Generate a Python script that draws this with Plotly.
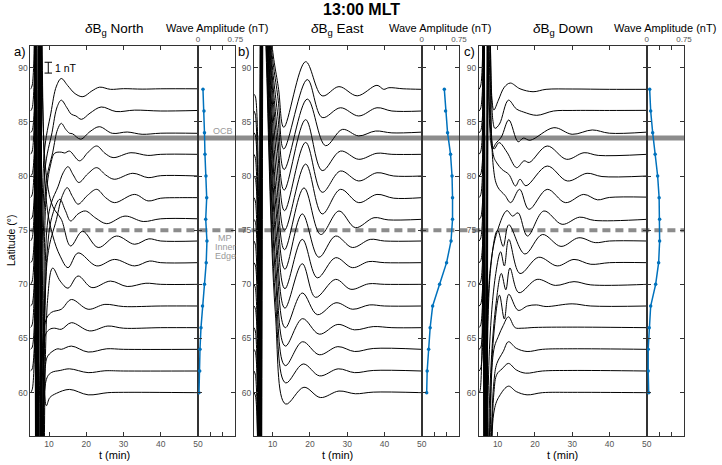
import plotly.graph_objects as go

# ---------------- data ----------------
LATS = [88, 86, 84, 82, 80, 78, 76, 74, 72, 70, 68, 66, 64, 62, 60]
TIME_TICKS = [10, 20, 30, 40, 50]
LAT_TICKS = [60, 65, 70, 75, 80, 85, 90]
AMP_TICKS = [0, 0.75]
AMP_TICK_TEXT = ["0", "0.75"]
AMP_MINOR_STEP = 0.25
OCB_LAT = 83.5
MP_LAT = 75.0
SCALE_T = 9.8
SCALE_LAT = (89.5, 90.5)

AMP_NORTH = [0.10, 0.12, 0.13, 0.14, 0.16, 0.175, 0.155, 0.18, 0.165, 0.13, 0.09, 0.06, 0.04, 0.035, 0.02]
AMP_EAST = [0.455, 0.48, 0.52, 0.58, 0.61, 0.62, 0.62, 0.59, 0.50, 0.36, 0.22, 0.17, 0.14, 0.11, 0.10]
AMP_DOWN = [0.06, 0.08, 0.12, 0.17, 0.22, 0.25, 0.26, 0.26, 0.24, 0.18, 0.08, 0.05, 0.03, 0.03, 0.04]

# (t [min], dB [nT]) per latitude trace -- North
N88 = [(5.0,0.0),(5.5,0.4),(6.0,40),(6.7,-40),(7.3,40),(8.0,-40),(8.7,-6.0),(10.5,-2.2),(12.0,0.3),(13.3,1.0),(15.0,0.35),(17.0,-0.4),(19.1,-0.68),(21.5,-0.15),(23.6,0.2),(26.5,0.0),(30.0,0.06),(35.0,0.02),(40.0,0.05),(50.0,0.05)]
N86 = [(5.0,0.0),(5.5,0.3),(6.1,40),(6.8,-40),(7.4,40),(8.1,-40),(8.9,-5.5),(10.8,-2.0),(12.2,0.4),(13.3,1.0),(14.8,0.3),(16.0,-0.3),(17.2,-0.45),(18.7,-0.77),(21.0,-0.2),(24.0,0.37),(28.0,-0.05),(33.0,0.08),(40.0,0.0),(50.0,0.05)]
N84 = [(5.0,0.0),(5.5,0.2),(6.0,40),(6.8,-40),(7.5,40),(8.2,-40),(9.1,-5.0),(11.0,-1.8),(12.3,0.3),(13.3,0.86),(14.5,0.3),(15.5,-0.05),(16.3,-0.1),(18.5,-0.6),(21.0,0.1),(23.5,0.55),(27.0,-0.06),(31.0,0.06),(35.0,-0.15),(40.0,-0.05),(50.0,-0.06)]
N82 = [(5.0,0.0),(5.5,0.3),(6.1,40),(6.9,-40),(7.5,40),(8.3,-40),(9.2,-4.0),(10.4,-1.0),(11.5,0.1),(13.3,0.2),(14.2,0.12),(15.5,0.3),(18.2,-0.6),(20.5,0.2),(22.8,0.77),(25.0,0.1),(27.2,-0.3),(32.0,0.15),(36.5,-0.1),(40.0,0.0),(50.0,0.0)]
N80 = [(5.0,0.0),(5.5,0.2),(5.9,40),(6.8,-40),(7.6,40),(8.4,-40),(9.4,-5.0),(10.6,-2.5),(12.4,-1.0),(13.8,0.3),(15.1,0.86),(16.5,0.1),(18.0,-0.6),(20.4,0.2),(22.8,0.77),(25.2,0.1),(27.5,-0.3),(32.5,0.25),(36.6,-0.15),(40.0,0.03),(50.0,0.0)]
N78 = [(5.0,0.0),(5.5,0.3),(6.2,40),(6.9,-40),(7.6,40),(8.3,-40),(9.6,-5.5),(12.0,-2.0),(13.6,0.2),(14.9,0.92),(16.3,0.1),(17.8,-0.6),(20.3,0.2),(22.8,0.77),(25.2,0.0),(27.6,-0.46),(33.0,0.3),(36.6,-0.3),(40.0,-0.05),(45.0,0.0),(50.0,0.0)]
N76 = [(5.0,0.0),(5.5,0.2),(6.0,40),(6.7,-40),(7.4,40),(8.3,-40),(9.5,-3.0),(11.0,0.5),(12.9,1.85),(14.4,0.8),(15.8,-0.15),(17.8,0.5),(19.8,0.77),(22.6,0.1),(25.5,-0.4),(30.4,0.3),(35.3,-0.2),(40.0,0.05),(50.0,0.05)]
N74 = [(5.0,0.0),(5.5,0.3),(6.1,40),(6.9,-40),(7.7,40),(9.0,7.0),(11.0,3.2),(13.3,2.0),(15.8,-0.46),(19.0,0.9),(23.2,-0.6),(28.1,0.46),(33.0,-0.3),(36.8,0.2),(40.0,0.0),(50.0,0.0)]
N72 = [(5.0,0.0),(5.5,0.2),(6.2,40),(7.0,-40),(7.8,40),(9.2,6.0),(11.0,2.5),(13.0,0.6),(15.1,-0.46),(17.8,0.9),(22.8,-0.3),(27.6,0.3),(33.0,-0.3),(37.0,0.15),(40.0,0.0),(50.0,0.0)]
N70 = [(5.0,0.0),(5.5,0.3),(6.0,40),(6.8,-40),(7.6,40),(8.5,-40),(9.6,-1.5),(11.0,1.5),(13.0,0.3),(15.1,-0.35),(17.8,0.77),(21.5,-0.3),(26.5,0.3),(31.0,-0.2),(36.0,0.1),(40.0,0.0),(50.0,0.0)]
N68 = [(5.0,0.0),(5.5,0.2),(6.1,40),(6.9,-40),(7.7,40),(8.3,-40),(9.0,-1.5),(10.6,-0.6),(13.3,-0.3),(16.0,0.6),(20.5,-0.3),(25.0,0.15),(30.0,-0.05),(40.0,0.0),(50.0,0.0)]
N66 = [(5.0,0.0),(5.5,0.3),(5.9,40),(6.7,-40),(7.4,40),(8.1,-40),(8.9,-0.8),(10.2,-0.15),(11.5,-0.05),(13.3,-0.15),(16.0,0.46),(20.9,-0.3),(25.8,0.15),(30.0,-0.05),(40.0,0.0),(50.0,0.0)]
N64 = [(5.0,0.0),(5.5,0.2),(6.0,40),(6.8,-40),(7.5,40),(8.2,-40),(9.0,-1.6),(9.7,-0.6),(11.5,-0.06),(12.4,0.05),(13.3,0.0),(16.0,0.3),(20.5,-0.25),(25.5,0.05),(30.0,0.0),(50.0,0.0)]
N62 = [(5.0,0.0),(5.5,0.2),(6.1,40),(6.9,-40),(7.6,40),(8.3,-40),(9.3,-0.77),(10.6,-0.15),(13.0,0.05),(15.5,0.2),(20.5,-0.15),(25.0,0.02),(30.0,0.0),(50.0,0.0)]
N60 = [(5.0,0.0),(5.5,0.3),(6.1,40),(6.9,-40),(7.8,3.0),(8.6,0.5),(9.3,-1.2),(10.2,-0.46),(12.0,-0.06),(15.5,0.3),(20.5,-0.2),(25.8,0.0),(30.0,0.03),(50.0,0.0)]

# East
E88 = [(5.0,-0.45),(5.4,-0.7),(6.4,-40),(7.5,40),(9.6,5.0),(11.6,0.0),(13.0,-3.5),(18.85,2.55),(23.3,-0.6),(27.8,0.25),(32.7,-0.6),(38.0,0.37),(39.8,0.0),(41.2,0.15),(45.0,0.05),(50.0,0.0)]
E86 = [(5.0,0.0),(5.4,-0.4),(6.3,-40),(7.4,40),(9.4,7.0),(11.5,1.0),(13.0,-3.5),(19.3,2.9),(23.3,-0.6),(28.2,0.3),(33.1,-0.46),(38.0,0.3),(42.0,0.0),(50.0,0.0)]
E84 = [(5.0,0.0),(5.4,-0.3),(6.5,-40),(7.6,40),(9.3,9.0),(11.4,1.5),(13.1,-3.4),(19.3,3.1),(24.2,-1.2),(28.7,0.3),(33.1,-0.3),(37.6,0.15),(42.0,-0.02),(50.0,0.05)]
E82 = [(5.0,0.0),(5.4,-0.4),(6.2,-40),(7.3,40),(9.2,11.0),(11.3,2.0),(13.1,-3.3),(18.85,3.2),(23.3,-1.5),(28.2,0.3),(33.1,-0.46),(38.0,0.1),(42.0,0.0),(50.0,0.0)]
E80 = [(5.0,0.0),(5.4,-0.3),(6.6,-40),(7.7,40),(9.1,13.0),(11.3,2.5),(13.2,-3.2),(18.85,3.1),(23.3,-1.5),(28.2,0.46),(33.1,-0.46),(38.0,0.3),(42.5,0.0),(50.0,0.0)]
E78 = [(5.0,0.0),(5.4,-0.4),(6.3,-40),(7.4,40),(9.0,15.0),(11.2,3.0),(13.2,-3.0),(18.85,3.1),(23.3,-1.5),(28.2,0.77),(33.1,-0.46),(38.0,0.3),(42.5,-0.05),(50.0,0.0)]
E76 = [(5.0,0.0),(5.4,-0.3),(6.7,-40),(7.8,40),(8.9,17.0),(11.1,3.5),(13.2,-2.8),(18.4,2.9),(22.9,-1.4),(27.8,0.77),(32.2,-0.77),(37.2,0.15),(41.0,-0.05),(50.0,0.0)]
E74 = [(5.0,0.0),(5.4,-0.4),(6.4,-40),(7.5,40),(8.8,19.0),(11.0,4.0),(13.3,-2.6),(17.95,2.5),(22.4,-1.5),(26.9,0.46),(31.4,-0.6),(36.2,0.15),(40.0,0.0),(50.0,0.0)]
E72 = [(5.0,0.0),(5.4,-0.3),(6.5,-40),(7.4,40),(8.7,21.0),(11.0,4.5),(13.3,-2.4),(17.95,2.15),(22.0,-1.4),(26.9,0.46),(31.4,-0.46),(35.8,0.1),(40.0,0.0),(50.0,0.0)]
E70 = [(5.0,0.0),(5.4,-0.4),(6.2,-40),(7.2,40),(8.6,23.0),(10.9,5.0),(13.3,-2.2),(17.95,1.9),(21.5,-1.2),(26.9,0.46),(31.0,-0.46),(35.8,0.05),(40.0,0.0),(50.0,0.0)]
E68 = [(5.0,0.0),(5.4,-0.3),(6.6,-40),(7.6,40),(8.5,25.0),(10.9,5.5),(13.4,-2.0),(17.95,1.2),(22.0,-0.8),(27.0,0.3),(31.5,-0.3),(36.0,0.1),(40.0,0.0),(50.0,0.0)]
E66 = [(5.0,0.0),(5.4,-0.4),(6.3,-40),(7.3,40),(8.4,27.0),(10.8,6.0),(13.4,-1.7),(18.0,0.83),(22.5,-0.6),(27.5,0.3),(32.0,-0.2),(37.0,0.1),(42.0,0.0),(50.0,0.0)]
E64 = [(5.0,0.0),(5.4,-0.3),(6.5,-40),(7.4,40),(8.3,29.0),(10.8,6.5),(13.4,-1.5),(18.0,0.7),(22.5,-0.5),(27.5,0.25),(32.0,-0.2),(37.0,0.08),(50.0,0.0)]
E62 = [(5.0,0.0),(5.4,-0.4),(6.2,-40),(7.2,40),(8.2,31.0),(10.7,7.0),(13.5,-1.1),(18.2,0.65),(22.6,-0.45),(27.6,0.2),(32.0,-0.15),(37.0,0.05),(50.0,0.0)]
E60 = [(5.0,0.0),(5.4,-0.3),(6.4,-40),(7.3,40),(8.1,33.0),(10.7,7.5),(13.5,-1.05),(18.4,0.5),(22.8,-0.45),(27.8,0.15),(32.2,-0.1),(37.0,0.05),(50.0,0.0)]

# Down
D88 = [(5.0,0.0),(5.5,0.4),(6.0,40),(6.8,-40),(7.6,40),(8.5,-1.0),(9.0,-1.9),(10.2,-1.0),(11.8,0.2),(13.4,0.58),(16.0,0.05),(19.5,-0.22),(23.0,0.0),(30.0,0.03),(40.0,0.0),(50.0,0.0)]
D86 = [(5.0,0.0),(5.5,0.3),(6.1,40),(6.9,-40),(7.7,40),(8.7,-0.8),(9.3,-1.6),(10.5,-1.2),(12.9,1.0),(15.0,0.2),(17.0,-0.1),(20.5,-0.4),(25.0,0.0),(30.0,0.05),(40.0,0.05),(50.0,0.06)]
D84 = [(5.0,0.0),(5.5,0.2),(5.9,40),(6.8,-40),(7.6,40),(8.6,-1.5),(9.5,-1.0),(11.0,-0.4),(13.0,1.17),(15.5,-0.84),(16.9,-0.5),(18.7,-0.7),(25.1,0.46),(30.0,-0.15),(35.4,0.25),(40.0,-0.05),(50.0,0.05)]
D82 = [(5.0,0.0),(5.5,0.3),(6.0,40),(6.9,-40),(7.8,40),(9.0,0.5),(10.4,1.08),(12.5,0.2),(15.1,-1.23),(17.1,-0.6),(18.5,-0.75),(23.3,0.77),(28.5,-0.46),(33.2,0.15),(37.0,-0.1),(50.0,0.0)]
D80 = [(5.0,0.0),(5.5,0.2),(6.1,40),(7.0,-40),(7.8,40),(8.8,2.0),(9.8,1.2),(11.2,0.6),(13.0,0.15),(14.8,-0.92),(16.0,-0.3),(17.6,-0.9),(23.3,0.92),(28.7,-0.46),(34.0,0.25),(38.0,-0.05),(50.0,0.0)]
D78 = [(5.0,0.0),(5.5,0.3),(5.9,40),(6.8,-40),(7.7,40),(8.8,3.0),(10.0,1.0),(12.0,0.2),(13.5,-0.46),(15.9,0.77),(18.4,-1.08),(23.3,0.77),(28.2,-0.46),(33.1,0.3),(36.8,-0.2),(40.0,0.02),(50.0,0.05)]
D76 = [(5.0,0.0),(5.5,0.2),(6.0,40),(6.9,-40),(7.9,-5.0),(10.0,-1.0),(12.5,0.8),(14.0,0.3),(15.5,0.6),(18.0,-1.54),(22.4,0.77),(27.3,-0.46),(32.0,0.2),(36.0,-0.1),(50.0,0.0)]
D74 = [(5.0,0.0),(5.5,0.3),(6.1,40),(7.0,-40),(8.0,-3.0),(10.0,1.0),(11.5,-0.5),(13.0,1.5),(17.3,-1.2),(22.0,0.6),(27.0,-0.5),(31.8,0.3),(36.2,-0.15),(40.0,0.0),(50.0,0.0)]
D72 = [(5.0,0.0),(5.5,0.2),(6.0,40),(6.8,-40),(7.8,-8.0),(9.5,-1.0),(10.8,1.0),(11.8,-0.3),(13.0,2.15),(16.0,-1.0),(21.0,0.5),(26.0,-0.3),(30.5,0.3),(35.0,-0.15),(40.0,0.0),(50.0,0.0)]
D70 = [(5.0,0.0),(5.5,0.3),(6.1,40),(6.9,-40),(7.9,-10.0),(9.5,-2.0),(11.0,1.0),(12.2,-0.5),(13.3,1.5),(15.7,-0.77),(20.6,0.46),(25.5,-0.1),(30.5,0.25),(35.0,-0.05),(50.0,0.0)]
D68 = [(5.0,0.0),(5.5,0.2),(6.0,40),(6.8,-40),(7.8,-12.0),(9.0,-2.5),(10.5,1.0),(11.8,-1.2),(13.0,1.08),(15.5,-0.4),(18.0,0.0),(20.4,0.1),(23.0,-0.05),(30.0,0.2),(35.0,0.0),(50.0,0.0)]
D66 = [(5.0,0.0),(5.5,0.3),(6.1,40),(6.9,-40),(7.9,-12.0),(9.0,-2.0),(10.2,-0.8),(11.5,0.2),(12.9,1.0),(14.7,0.0),(16.5,-0.05),(20.0,0.02),(30.0,0.05),(50.0,0.0)]
D64 = [(5.0,0.0),(5.5,0.2),(6.0,40),(6.8,-40),(7.9,-14.0),(9.0,-3.0),(9.8,-1.3),(11.5,-0.2),(12.9,0.7),(15.0,0.1),(17.9,-0.2),(22.0,0.0),(30.0,0.05),(50.0,0.0)]
D62 = [(5.0,0.0),(5.5,0.3),(6.1,40),(6.9,-40),(8.0,-15.0),(9.0,-2.0),(9.8,-0.3),(11.2,0.2),(12.9,0.7),(15.0,0.1),(17.5,-0.2),(22.0,0.0),(30.0,0.05),(50.0,0.0)]
D60 = [(5.0,0.0),(5.3,0.2),(6.0,40),(6.8,-40),(8.2,-12.0),(9.1,-1.6),(10.5,-0.3),(12.9,0.6),(15.0,0.1),(17.9,-0.2),(22.0,0.0),(30.0,0.03),(50.0,0.0)]

NORTH = [N88, N86, N84, N82, N80, N78, N76, N74, N72, N70, N68, N66, N64, N62, N60]
EAST = [E88, E86, E84, E82, E80, E78, E76, E74, E72, E70, E68, E66, E64, E62, E60]
DOWN = [D88, D86, D84, D82, D80, D78, D76, D74, D72, D70, D68, D66, D64, D62, D60]

# ---------------- layout helpers ----------------
W, H = 722, 465
FONT = "Liberation Sans, Arial, Helvetica, sans-serif"
AX_COL = "#333333"
TICK_COL = "#555555"
GRAY = "#8c8c8c"


def px(x):
    return x / W


def py(y):
    return 1 - y / H


Y_DOM = [py(436), py(46)]
# (left, divider, right) in pixels
PANELS = [(30.4, 198.0, 235.3), (254.0, 421.7, 459.0), (479.0, 646.7, 684.0)]
NAMES = ["North", "East", "Down"]
LETTERS = ["a)", "b)", "c)"]
DATA = [NORTH, EAST, DOWN]
AMPS = [AMP_NORTH, AMP_EAST, AMP_DOWN]

fig = go.Figure()
layout = dict(
    width=W, height=H, margin=dict(l=0, r=0, t=0, b=0, autoexpand=False),
    paper_bgcolor="white", plot_bgcolor="rgba(0,0,0,0)",
    showlegend=False, template="none",
    font=dict(family=FONT, color="black"),
)
annotations = []

for k, (left, div, right) in enumerate(PANELS):
    xt = "x" if k == 0 else "x%d" % (2 * k + 1)
    yt = "y" if k == 0 else "y%d" % (2 * k + 1)
    xa = "x%d" % (2 * k + 2)
    ya = "y%d" % (2 * k + 2)
    kt = "xaxis" if k == 0 else "xaxis%d" % (2 * k + 1)
    kyt = "yaxis" if k == 0 else "yaxis%d" % (2 * k + 1)
    ka = "xaxis%d" % (2 * k + 2)
    kya = "yaxis%d" % (2 * k + 2)

    common = dict(showline=True, linecolor=AX_COL, linewidth=1, ticks="inside",
                  ticklen=4, tickcolor=AX_COL, mirror="ticks", showgrid=False,
                  zeroline=False, automargin=False,
                  tickfont=dict(size=8.5, color=TICK_COL, family=FONT))
    layout[kt] = dict(common, domain=[px(left), px(div)], range=[5, 50], anchor=yt,
                      tickvals=TIME_TICKS)
    layout[kyt] = dict(common, domain=Y_DOM, range=[56, 92], anchor=xt,
                       tickvals=LAT_TICKS)
    layout[ka] = dict(common, domain=[px(div), px(right)], range=[0, 0.75], anchor=ya,
                      side="top", tickvals=AMP_TICKS, ticktext=AMP_TICK_TEXT,
                      minor=dict(tickmode="linear", tick0=0, dtick=AMP_MINOR_STEP,
                                 ticks="inside", ticklen=4, tickcolor=AX_COL),
                      tickfont=dict(size=8, color=TICK_COL, family=FONT))
    layout[kya] = dict(common, domain=Y_DOM, range=[56, 92], anchor=xa,
                       matches=yt, showticklabels=False, tickvals=LAT_TICKS)

    for lat, pts in zip(LATS, DATA[k]):
        fig.add_trace(go.Scatter(
            x=[p[0] for p in pts], y=[lat + p[1] for p in pts],
            mode="lines", line=dict(color="black", width=1, shape="spline", smoothing=1.0),
            xaxis=xt, yaxis=yt, hoverinfo="skip"))

    fig.add_trace(go.Scatter(
        x=AMPS[k], y=LATS, mode="lines+markers",
        line=dict(color="#0072BD", width=1.5), marker=dict(color="#0072BD", size=3.5),
        xaxis=xa, yaxis=ya, hoverinfo="skip"))

    tc = (left + div) / 2
    ac = (div + right) / 2
    annotations.append(dict(text="<i>δ</i>B<sub>g</sub> " + NAMES[k], x=px(tc), y=py(29),
                            xref="paper", yref="paper", showarrow=False,
                            font=dict(size=13.5, family=FONT), xanchor="center", yanchor="middle"))
    annotations.append(dict(text="Wave Amplitude (nT)", x=px(ac), y=py(28),
                            xref="paper", yref="paper", showarrow=False,
                            font=dict(size=11, family=FONT), xanchor="center", yanchor="middle"))
    annotations.append(dict(text=LETTERS[k], x=px(left - 10), y=py(52),
                            xref="paper", yref="paper", showarrow=False,
                            font=dict(size=13, family=FONT), xanchor="center", yanchor="middle"))
    annotations.append(dict(text="t (min)", x=px(tc), y=py(455),
                            xref="paper", yref="paper", showarrow=False,
                            font=dict(size=11, family=FONT), xanchor="center", yanchor="middle"))

# scale bar (1 nT) in panel a
fig.add_trace(go.Scatter(
    x=[SCALE_T, SCALE_T, None, SCALE_T - 1.0, SCALE_T + 1.0, None, SCALE_T - 1.0, SCALE_T + 1.0],
    y=[SCALE_LAT[0], SCALE_LAT[1], None, SCALE_LAT[0], SCALE_LAT[0], None, SCALE_LAT[1], SCALE_LAT[1]],
    mode="lines", line=dict(color="black", width=1), xaxis="x", yaxis="y", hoverinfo="skip"))
annotations.append(dict(text="1 nT", x=SCALE_T + 1.4, y=sum(SCALE_LAT) / 2, xref="x", yref="y",
                        showarrow=False, font=dict(size=10.5, family=FONT),
                        xanchor="left", yanchor="middle"))

annotations += [
    dict(text="<b>13:00 MLT</b>", x=px(361), y=py(10), xref="paper", yref="paper",
         showarrow=False, font=dict(size=16, family=FONT), xanchor="center", yanchor="middle"),
    dict(text="Latitude (°)", x=px(11), y=py(241), xref="paper", yref="paper",
         showarrow=False, textangle=-90, font=dict(size=10.5, family=FONT),
         xanchor="center", yanchor="middle"),
    dict(text="OCB", x=px(222.5), y=OCB_LAT + 0.65, xref="paper", yref="y",
         showarrow=False, font=dict(size=9, color="#9a9a9a", family=FONT),
         xanchor="center", yanchor="middle"),
    dict(text="MP", x=px(225), y=py(238), xref="paper", yref="paper",
         showarrow=False, font=dict(size=9, color="#9a9a9a", family=FONT),
         xanchor="center", yanchor="middle"),
    dict(text="Inner", x=px(225), y=py(246.8), xref="paper", yref="paper",
         showarrow=False, font=dict(size=9, color="#9a9a9a", family=FONT),
         xanchor="center", yanchor="middle"),
    dict(text="Edge", x=px(225), y=py(255.6), xref="paper", yref="paper",
         showarrow=False, font=dict(size=9, color="#9a9a9a", family=FONT),
         xanchor="center", yanchor="middle"),
]

layout["annotations"] = annotations
layout["shapes"] = [
    dict(type="line", xref="paper", yref="y", x0=px(30.4), x1=px(684), y0=OCB_LAT, y1=OCB_LAT,
         line=dict(color=GRAY, width=5), layer="below"),
    dict(type="line", xref="paper", yref="y", x0=px(30.4), x1=px(684), y0=MP_LAT, y1=MP_LAT,
         line=dict(color=GRAY, width=4, dash="8px,5px"), layer="below"),
]

fig.update_layout(**layout)
fig.write_html("out.html", config={"displayModeBar": False},
               post_script="document.body.style.margin='0px';document.body.style.padding='0px';")
